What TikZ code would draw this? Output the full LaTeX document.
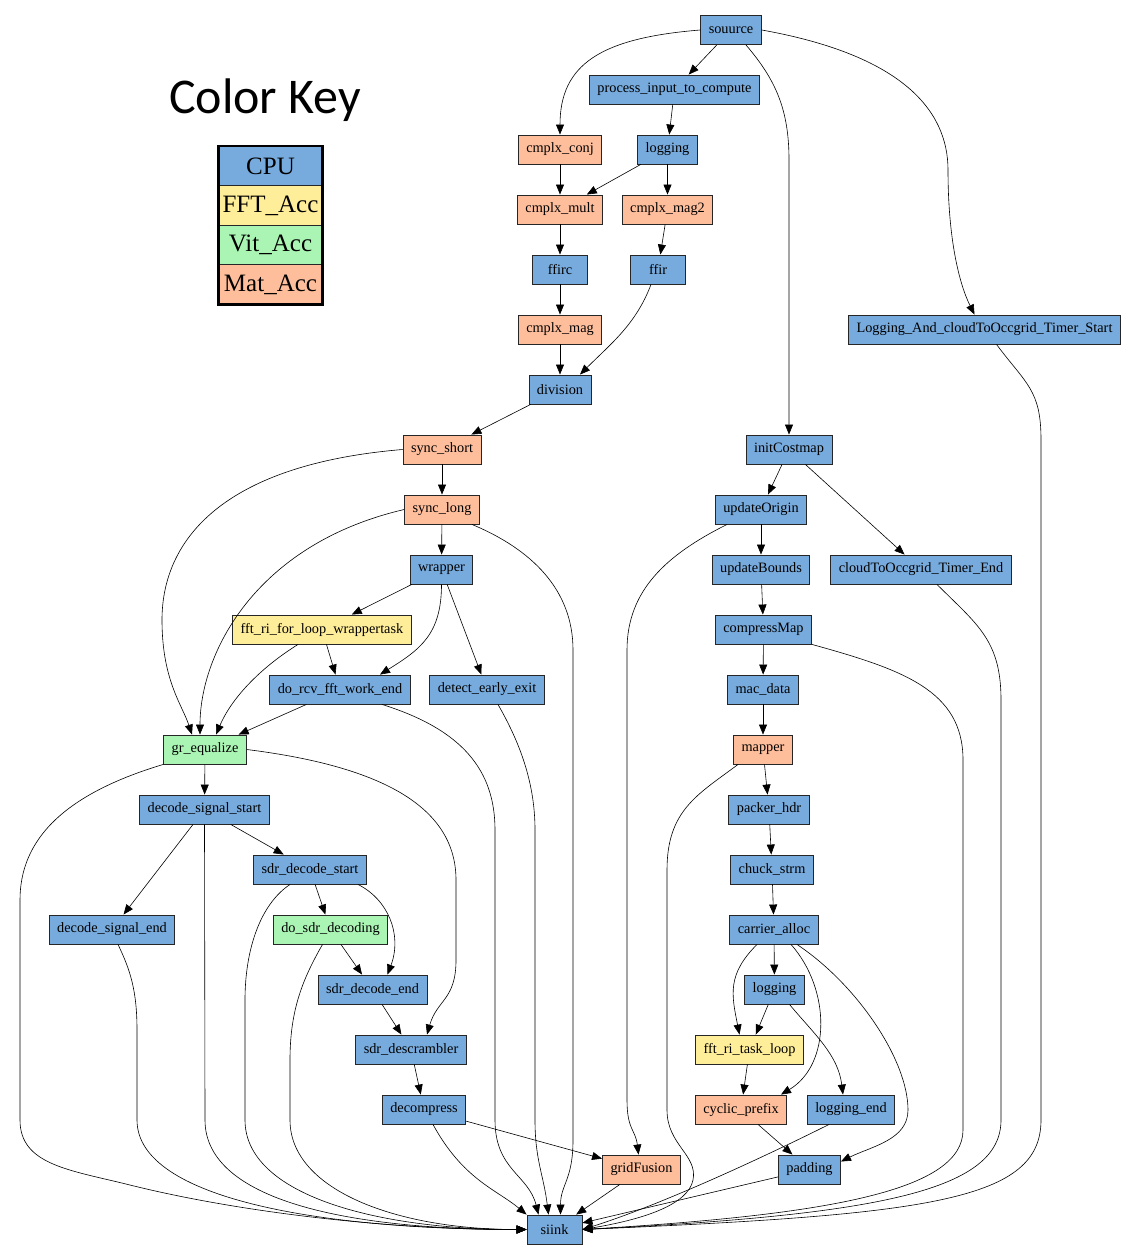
\documentclass[tikz,border=0pt]{standalone}
\usepackage{fontspec}
\setmainfont{Liberation Serif}
\newfontfamily\keyfont{Carlito}
\usetikzlibrary{arrows.meta}
\definecolor{cpu}{RGB}{119,170,221}
\definecolor{fft}{RGB}{255,238,153}
\definecolor{vit}{RGB}{170,245,180}
\definecolor{mat}{RGB}{255,190,155}

\begin{document}
\begin{tikzpicture}[x=1pt,y=-1pt,
		task/.style={draw=black!85, line width=0.9pt, minimum height=29pt, minimum width=55pt, inner xsep=8pt, inner ysep=0pt, font=\fontsize{14.3}{16}\selectfont},
		flow/.style={-{Triangle[length=10pt,width=8pt]}, line width=0.6pt, draw=black},
		keyrow/.style={draw=black!85, line width=0.9pt, minimum width=103pt, minimum height=39.5pt, font=\fontsize{25}{28}\selectfont}]
	\useasboundingbox (0,0) rectangle (1140,1252);
	% Farbschluessel
	\node[font=\keyfont\fontsize{50}{55}\selectfont] (keytitle) at (265,100) {Color Key};
	\foreach \lbl/\col [count=\i from 0] in {CPU/cpu, FFT\_Acc/fft, Vit\_Acc/vit, Mat\_Acc/mat} {
		\node[keyrow, fill=\col] (key\i) at (270.5,166+39.5*\i) {\lbl};
	}
	\draw[line width=2.5pt] (key0.north west) rectangle (key3.south east);
	% Tasks
	\foreach \id/\x/\y/\col/\txt in {
		souurce/731/30/cpu/souurce,
		pitc/674.5/89.5/cpu/process\_input\_to\_compute,
		cconj/560/149.5/mat/cmplx\_conj,
		logA/667.5/149.5/cpu/logging,
		cmult/560/209.5/mat/cmplx\_mult,
		cmag2/667.5/209.5/mat/cmplx\_mag2,
		ffirc/560/269.5/cpu/ffirc,
		ffir/658/269.5/cpu/ffir,
		cmag/560/329.5/mat/cmplx\_mag,
		lstart/984.5/329.5/cpu/Logging\_And\_cloudToOccgrid\_Timer\_Start,
		division/560/389.5/cpu/division,
		sshort/442/449.5/mat/sync\_short,
		initc/789/449.5/cpu/initCostmap,
		slong/442/509.5/mat/sync\_long,
		uorigin/761/509.5/cpu/updateOrigin,
		wrapper/441.5/569.5/cpu/wrapper,
		ubounds/761/569.5/cpu/updateBounds,
		cend/921/569.5/cpu/cloudToOccgrid\_Timer\_End,
		fftw/322/629.5/fft/fft\_ri\_for\_loop\_wrappertask,
		cmap/763.5/629.5/cpu/compressMap,
		dorcv/340/689.5/cpu/do\_rcv\_fft\_work\_end,
		detect/487/689.5/cpu/detect\_early\_exit,
		macdata/763/689.5/cpu/mac\_data,
		greq/205/749.5/vit/gr\_equalize,
		mapper/763/749.5/mat/mapper,
		dss/204.5/809.5/cpu/decode\_signal\_start,
		packer/769/809.5/cpu/packer\_hdr,
		sds/310/869.5/cpu/sdr\_decode\_start,
		chuck/772/869.5/cpu/chuck\_strm,
		dse/112/929.5/cpu/decode\_signal\_end,
		dosdr/330.5/929.5/vit/do\_sdr\_decoding,
		carrier/774/929.5/cpu/carrier\_alloc,
		sde/372.5/989.5/cpu/sdr\_decode\_end,
		logB/774.5/989.5/cpu/logging,
		descr/411/1049.5/cpu/sdr\_descrambler,
		fftl/749.5/1049.5/fft/fft\_ri\_task\_loop,
		decomp/424/1109.5/cpu/decompress,
		cprefix/741/1109.5/mat/cyclic\_prefix,
		logend/851/1109.5/cpu/logging\_end,
		gfusion/641.5/1169.5/mat/gridFusion,
		padding/809.5/1169.5/cpu/padding,
		siink/554.5/1229.5/cpu/siink} {
		\node[task, fill=\col] (\id) at (\x,\y) {\txt};
	}
	% gerade Kanten
	\foreach \a/\b in {souurce/pitc, pitc/logA, cconj/cmult, logA/cmult, logA/cmag2, cmult/ffirc,
		cmag2/ffir, ffirc/cmag, cmag/division, division/sshort, sshort/slong, slong/wrapper,
		wrapper/fftw, wrapper/detect, fftw/dorcv, dorcv/greq, greq/dss, dss/dse, dss/sds,
		sds/dosdr, dosdr/sde, sde/descr, descr/decomp, decomp/gfusion, gfusion/siink,
		initc/uorigin, initc/cend, uorigin/ubounds, ubounds/cmap, cmap/macdata, macdata/mapper,
		mapper/packer, packer/chuck, chuck/carrier, carrier/logB, logB/fftl, fftl/cprefix,
		cprefix/padding, padding/siink} {
		\draw[flow] (\a) -- (\b);
	}
	% gebogene Kanten
	\draw[flow] (souurce.west) .. controls +(-100,8) and +(0,-70) .. (cconj.north);
	\draw[flow] (souurce.-45) .. controls +(30,35) and +(0,-50) .. (789,160) -- (initc.north);
	\draw[flow] (souurce.east) .. controls +(140,25) and +(0,-60) .. (948,170) .. controls +(0,70) and +(-15,-30) .. ([xshift=-10pt]lstart.north);
	\draw[flow] ([xshift=-7pt]ffir.south) .. controls +(-15,40) and +(30,-30) .. ([xshift=20pt]division.north);
	\draw[flow] (sshort.west) .. controls +(-180,15) and +(0,-80) .. (162,620) .. controls +(0,60) and +(-10,-30) .. ([xshift=-13pt]greq.north);
	\draw[flow] (slong.west) .. controls +(-150,35) and +(0,-80) .. ([xshift=-5pt]greq.north);
	\draw[flow] ([xshift=30pt]slong.south) .. controls +(60,25) and +(0,-60) .. (573,650) -- (573,1140) .. controls +(0,40) and +(0,-30) .. ([xshift=6pt]siink.north);
	\draw[flow] (wrapper.south) .. controls +(0,50) and +(40,-25) .. ([xshift=40pt]dorcv.north);
	\draw[flow] ([xshift=-24pt]fftw.south) .. controls +(-40,25) and +(15,-35) .. ([xshift=11pt]greq.north);
	\draw[flow] ([xshift=42pt]dorcv.south) .. controls +(80,25) and +(0,-60) .. (495,830) -- (495,1120) .. controls +(0,50) and +(-10,-40) .. ([xshift=-16pt]siink.north);
	\draw[flow] ([xshift=11pt]detect.south) .. controls +(20,35) and +(0,-50) .. (535,830) -- (535,1120) .. controls +(0,40) and +(-5,-40) .. ([xshift=-6pt]siink.north);
	\draw[flow] (greq.south west) .. controls +(-100,30) and +(0,-60) .. (20,900) -- (20,1120) .. controls +(0,45) and +(-60,-15) .. (130,1185) .. controls +(100,25) and +(-150,0) .. (siink.west);
	\draw[flow] (greq.east) .. controls +(120,15) and +(0,-80) .. (456,880) -- (456,960) .. controls +(0,40) and +(10,-35) .. ([xshift=16pt]descr.north);
	\draw[flow] (dss.south) -- (205,1120) .. controls +(0,80) and +(-180,0) .. (siink.west);
	\draw[flow] ([xshift=-20pt]sds.south) .. controls +(-30,20) and +(0,-50) .. (245,1000) -- (245,1120) .. controls +(0,75) and +(-150,0) .. (siink.west);
	\draw[flow] ([xshift=-8pt]dosdr.south) .. controls +(-20,35) and +(0,-50) .. (290,1060) -- (290,1120) .. controls +(0,70) and +(-130,0) .. (siink.west);
	\draw[flow] ([xshift=6pt]dse.south) .. controls +(12,25) and +(0,-40) .. (137,1030) -- (137,1120) .. controls +(0,80) and +(-200,0) .. (siink.west);
	\draw[flow] ([xshift=48pt]sds.south) .. controls +(30,15) and +(15,-40) .. ([xshift=15pt]sde.north);
	\draw[flow] ([xshift=9pt]decomp.south) .. controls +(30,55) and +(-30,-25) .. (siink.north west);
	\draw[flow] ([xshift=-34pt]uorigin.south) .. controls +(-60,30) and +(0,-60) .. (627,650) -- (627,1100) .. controls +(0,30) and +(-3,-25) .. ([xshift=-3pt]gfusion.north);
	\draw[flow] (cmap.south east) .. controls +(90,25) and +(0,-70) .. (963,760) -- (963,1130) .. controls +(0,60) and +(250,-15) .. (siink.east);
	\draw[flow] ([xshift=16pt]cend.south) .. controls +(40,40) and +(0,-60) .. (1001,700) -- (1001,1120) .. controls +(0,70) and +(300,-15) .. (siink.east);
	\draw[flow] ([xshift=12pt]lstart.south) .. controls +(30,40) and +(0,-50) .. (1041,440) -- (1041,1120) .. controls +(0,80) and +(350,-15) .. (siink.east);
	\draw[flow] ([xshift=-25pt]mapper.south) .. controls +(-40,30) and +(0,-60) .. (667,870) -- (667,1110) .. controls +(0,35) and +(5,-25) .. (693,1180) .. controls +(-5,25) and +(60,-10) .. (siink.east);
	\draw[flow] ([xshift=-22pt]logend.south) .. controls +(-60,30) and +(80,-25) .. (siink.east);
	\draw[flow] ([xshift=-17pt]carrier.south) .. controls +(-30,30) and +(-8,-40) .. ([xshift=-10pt]fftl.north);
	\draw[flow] ([xshift=17pt]carrier.south) .. controls +(40,45) and +(50,-30) .. ([xshift=40pt]cprefix.north);
	\draw[flow] ([xshift=23pt]carrier.south) .. controls +(60,40) and +(0,-50) .. (908,1110) .. controls +(0,30) and +(30,-15) .. ([yshift=8pt]padding.east);
	\draw[flow] ([xshift=15pt]logB.south) .. controls +(25,30) and +(-5,-40) .. ([xshift=-8pt]logend.north);
\end{tikzpicture}
\end{document}
